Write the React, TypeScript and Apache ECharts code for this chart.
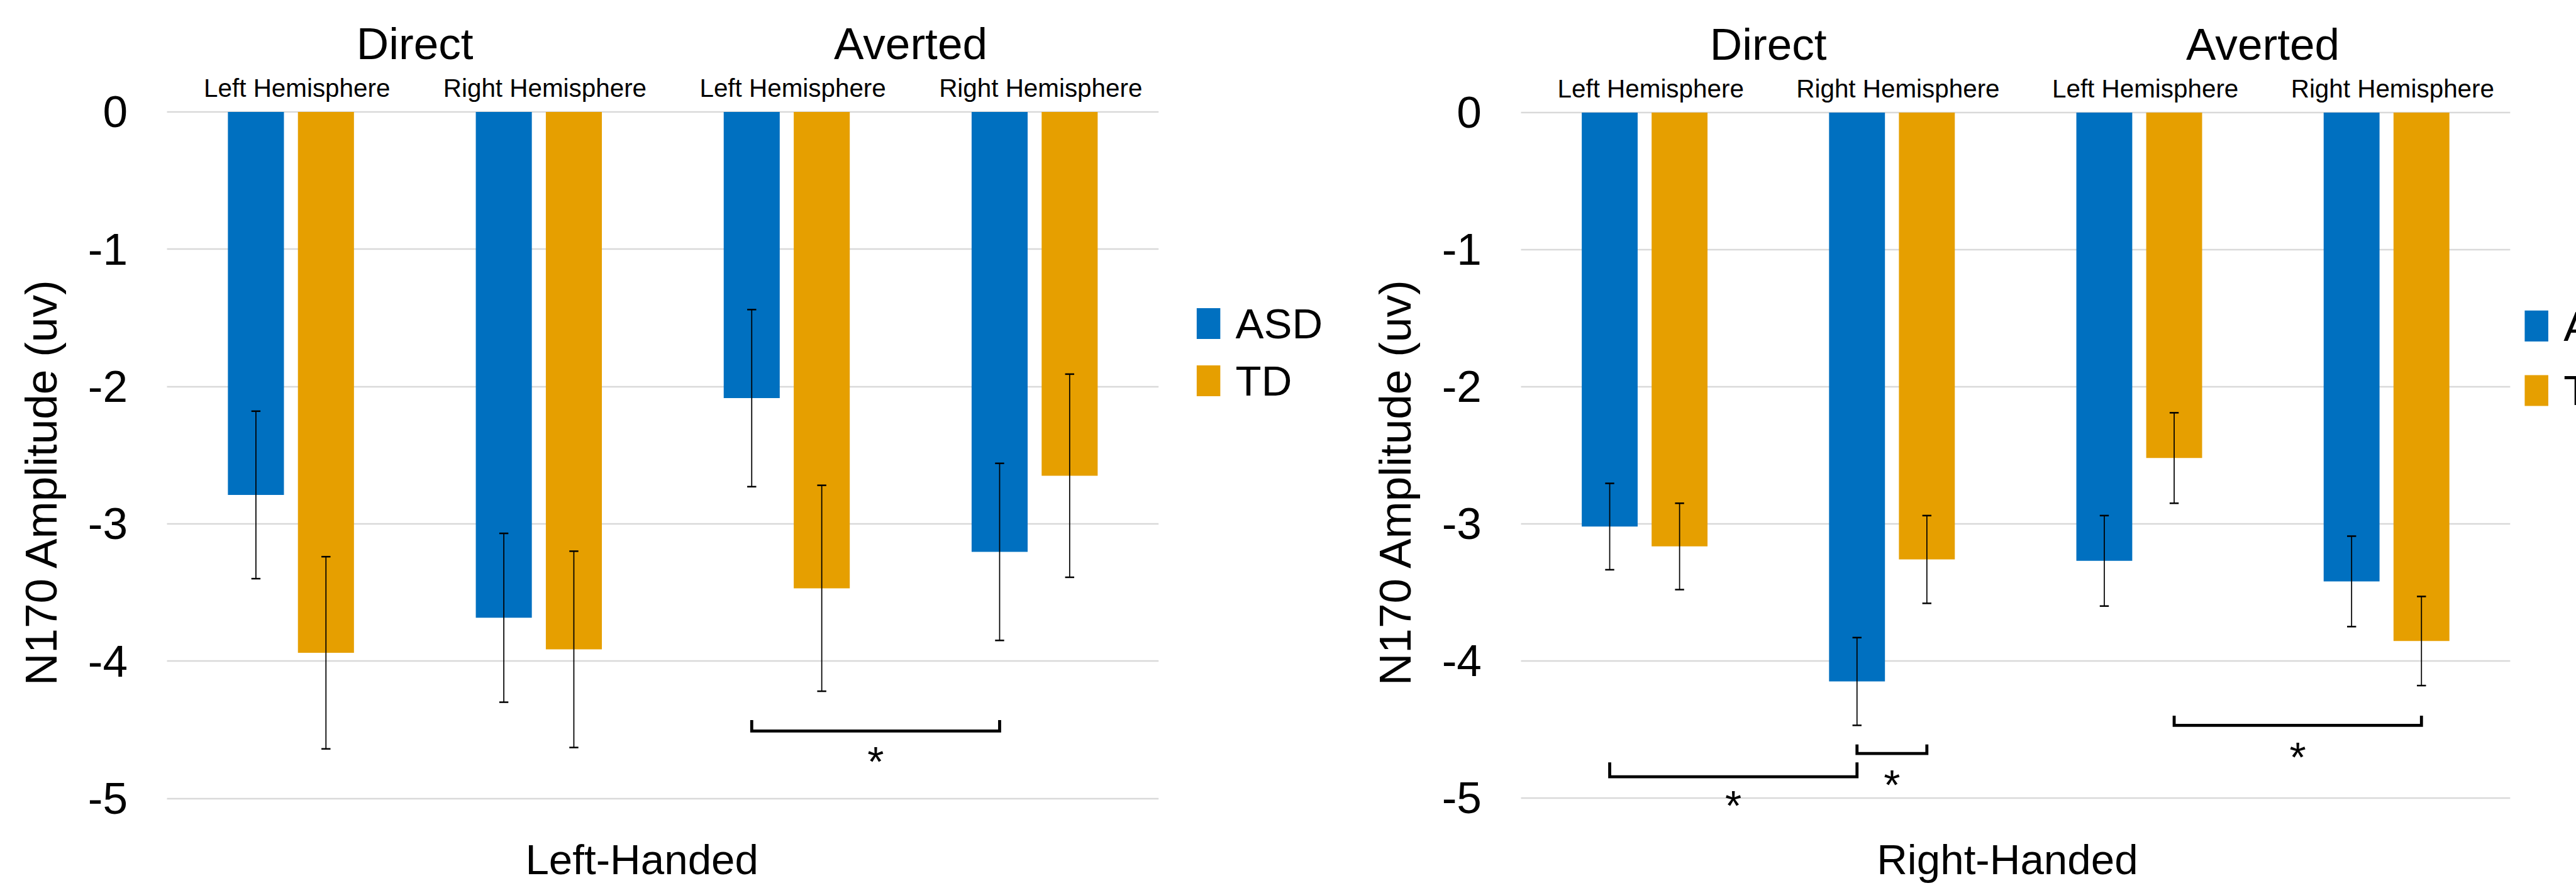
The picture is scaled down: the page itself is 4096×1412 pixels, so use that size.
import React, { useEffect, useRef } from "react";
import * as echarts from "echarts";

const S = 0.962;
const W = 4096;
const H = 1412;
const px = (v: number) => v * S;
const FONT = "'Liberation Sans', Arial, Helvetica, sans-serif";

// ---- data ----
const HEMISPHERES = ["Left Hemisphere", "Right Hemisphere", "Left Hemisphere", "Right Hemisphere"];
const GAZE = ["Direct", "Averted"];
const GROUPS = ["ASD", "TD"];
const PANELS = ["Left-Handed", "Right-Handed"];
const Y_MIN = -5;
const Y_MAX = 0;
const Y_STEP = 1;
const Y_TITLE = "N170 Amplitude (uv)";

const LEFT_ASD = [-2.79, -3.685, -2.085, -3.205];
const LEFT_ASD_ERR = [0.61, 0.615, 0.645, 0.645];
const LEFT_TD = [-3.94, -3.915, -3.47, -2.65];
const LEFT_TD_ERR = [0.7, 0.715, 0.75, 0.74];

const RIGHT_ASD = [-3.02, -4.15, -3.27, -3.42];
const RIGHT_ASD_ERR = [0.315, 0.32, 0.33, 0.33];
const RIGHT_TD = [-3.165, -3.26, -2.52, -3.855];
const RIGHT_TD_ERR = [0.315, 0.32, 0.33, 0.325];

// significance brackets: [fromCategory, fromGroup (0 ASD / 1 TD), toCategory, toGroup, tickTop, bracketLine, starCenter]
const LEFT_SIG = [[2, 0, 3, 0, -4.43, -4.51, -4.66]];
const RIGHT_SIG = [
  [0, 0, 1, 0, -4.74, -4.845, -4.98],
  [1, 0, 1, 1, -4.61, -4.675, -4.83],
  [2, 1, 3, 1, -4.4, -4.47, -4.63],
];

const COLORS = ["#0070C0", "#E69F00"];
const BAR_W_FRAC = 0.226;
const BAR_GAP_FRAC = 0.25;

function barOffset(api: any) {
  const band = api.size([1, 0])[0];
  const bw = band * BAR_W_FRAC;
  return (bw * (1 + BAR_GAP_FRAC)) / 2;
}

function errSeries(name: string, xi: number, yi: number, means: number[], errs: number[], side: number) {
  return {
    type: "custom",
    name,
    xAxisIndex: xi,
    yAxisIndex: yi,
    z: 5,
    silent: true,
    data: means.map((m, i) => [i, m - errs[i], m + errs[i]]),
    encode: { x: 0, y: [1, 2] },
    renderItem: (_p: any, api: any) => {
      const c = api.value(0);
      const top = api.coord([c, api.value(2)]);
      const bot = api.coord([c, api.value(1)]);
      const x = top[0] + side * barOffset(api);
      const hw = px(7.5);
      const st = { stroke: "#000", lineWidth: px(1.8) };
      const cs = { stroke: "#000", lineWidth: px(2.6) };
      return {
        type: "group",
        children: [
          { type: "line", shape: { x1: x, y1: top[1], x2: x, y2: bot[1] }, style: st },
          { type: "line", shape: { x1: x - hw, y1: top[1], x2: x + hw, y2: top[1] }, style: cs },
          { type: "line", shape: { x1: x - hw, y1: bot[1], x2: x + hw, y2: bot[1] }, style: cs },
        ],
      };
    },
  };
}

function sigSeries(name: string, xi: number, yi: number, rows: number[][]) {
  const fs = px(70);
  return {
    type: "custom",
    name,
    xAxisIndex: xi,
    yAxisIndex: yi,
    z: 6,
    silent: true,
    data: rows,
    encode: { x: [0, 2], y: [4, 5, 6] },
    renderItem: (_p: any, api: any) => {
      const off = barOffset(api);
      const xa = api.coord([api.value(0), 0])[0] + (api.value(1) ? off : -off);
      const xb = api.coord([api.value(2), 0])[0] + (api.value(3) ? off : -off);
      const yt = api.coord([0, api.value(4)])[1];
      const yl = api.coord([0, api.value(5)])[1];
      const ys = api.coord([0, api.value(6)])[1];
      return {
        type: "group",
        children: [
          {
            type: "polyline",
            shape: { points: [[xa, yt], [xa, yl], [xb, yl], [xb, yt]] },
            style: { stroke: "#000", lineWidth: px(5), fill: "none" },
          },
          {
            type: "text",
            x: (xa + xb) / 2,
            y: ys + 0.234 * fs,
            style: { text: "*", fontSize: fs, fontFamily: FONT, fill: "#000", align: "center", verticalAlign: "middle" },
          },
        ],
      };
    },
  };
}

function topAxes(gridIndex: number) {
  const hidden = { axisLine: { show: false }, axisTick: { show: false }, splitLine: { show: false } };
  return [
    {
      type: "category",
      gridIndex,
      position: "top",
      data: HEMISPHERES,
      ...hidden,
      axisLabel: {
        interval: 0,
        fontSize: px(42),
        fontFamily: FONT,
        color: "#000",
        margin: px(18.6),
        padding: [0, 0, 0, px(20)],
      },
    },
    {
      type: "category",
      gridIndex,
      position: "top",
      offset: 0,
      data: GAZE,
      ...hidden,
      axisLabel: { interval: 0, fontSize: px(74), fontFamily: FONT, color: "#000", margin: px(75.6) },
    },
  ];
}

function yAxis(gridIndex: number) {
  return {
    type: "value",
    gridIndex,
    min: Y_MIN,
    max: Y_MAX,
    interval: Y_STEP,
    axisLine: { show: false },
    axisTick: { show: false },
    splitLine: { show: true, lineStyle: { color: "#d9d9d9", width: px(2.5) } },
    axisLabel: { fontSize: px(74), fontFamily: FONT, color: "#000", margin: px(65) },
  };
}

function barSeries(name: string, xi: number, yi: number, data: number[], color: string) {
  return {
    type: "bar",
    name,
    xAxisIndex: xi,
    yAxisIndex: yi,
    data,
    barWidth: BAR_W_FRAC * 100 + "%",
    barGap: BAR_GAP_FRAC * 100 + "%",
    itemStyle: { color },
    z: 2,
  };
}

function legend(left: number, top: number, gap: number) {
  return {
    data: GROUPS,
    orient: "vertical",
    left: px(left),
    top: px(top),
    padding: 0,
    itemWidth: px(39),
    itemHeight: px(51),
    itemGap: px(gap),
    icon: "rect",
    selectedMode: false,
    textStyle: {
      fontSize: px(70),
      fontFamily: FONT,
      color: "#000",
      lineHeight: px(51),
      padding: [0, 0, 0, px(20)],
    },
  };
}

function textG(text: string, x: number, y: number, size: number, rot = 0) {
  return {
    type: "text",
    x: px(x),
    y: px(y),
    rotation: rot,
    style: { text, fontSize: px(size), fontFamily: FONT, fill: "#000", align: "center", verticalAlign: "middle" },
  };
}

export default function App() {
  const ref = useRef<HTMLDivElement>(null);
  useEffect(() => {
    if (!ref.current) return;
    const chart = echarts.init(ref.current, undefined, { renderer: "svg", width: W, height: H });
    const option: any = {
      animation: false,
      backgroundColor: "#fff",
      textStyle: { fontFamily: FONT },
      grid: [
        { left: px(276), top: px(185), width: px(1639), height: px(1134.5), containLabel: false },
        { left: px(2514), top: px(186), width: px(1635), height: px(1133), containLabel: false },
      ],
      xAxis: [...topAxes(0), ...topAxes(1)],
      yAxis: [yAxis(0), yAxis(1)],
      legend: [legend(1978, 500, 25), legend(4173, 504, 37)],
      series: [
        barSeries(GROUPS[0], 0, 0, LEFT_ASD, COLORS[0]),
        barSeries(GROUPS[1], 0, 0, LEFT_TD, COLORS[1]),
        barSeries(GROUPS[0], 2, 1, RIGHT_ASD, COLORS[0]),
        barSeries(GROUPS[1], 2, 1, RIGHT_TD, COLORS[1]),
        errSeries("ASD err L", 0, 0, LEFT_ASD, LEFT_ASD_ERR, -1),
        errSeries("TD err L", 0, 0, LEFT_TD, LEFT_TD_ERR, 1),
        errSeries("ASD err R", 2, 1, RIGHT_ASD, RIGHT_ASD_ERR, -1),
        errSeries("TD err R", 2, 1, RIGHT_TD, RIGHT_TD_ERR, 1),
        sigSeries("sig L", 0, 0, LEFT_SIG),
        sigSeries("sig R", 2, 1, RIGHT_SIG),
      ],
      graphic: [
        textG(Y_TITLE, 68, 798, 74, Math.PI / 2),
        textG(Y_TITLE, 2306, 798, 74, Math.PI / 2),
        textG(PANELS[0], 1061, 1420, 70),
        textG(PANELS[1], 3318, 1420, 70),
      ],
    };
    chart.setOption(option);
    return () => chart.dispose();
  }, []);
  return (
    <div
      ref={ref}
      style={{ position: "fixed", left: 0, top: 0, width: W, height: H, background: "#fff" }}
    />
  );
}
